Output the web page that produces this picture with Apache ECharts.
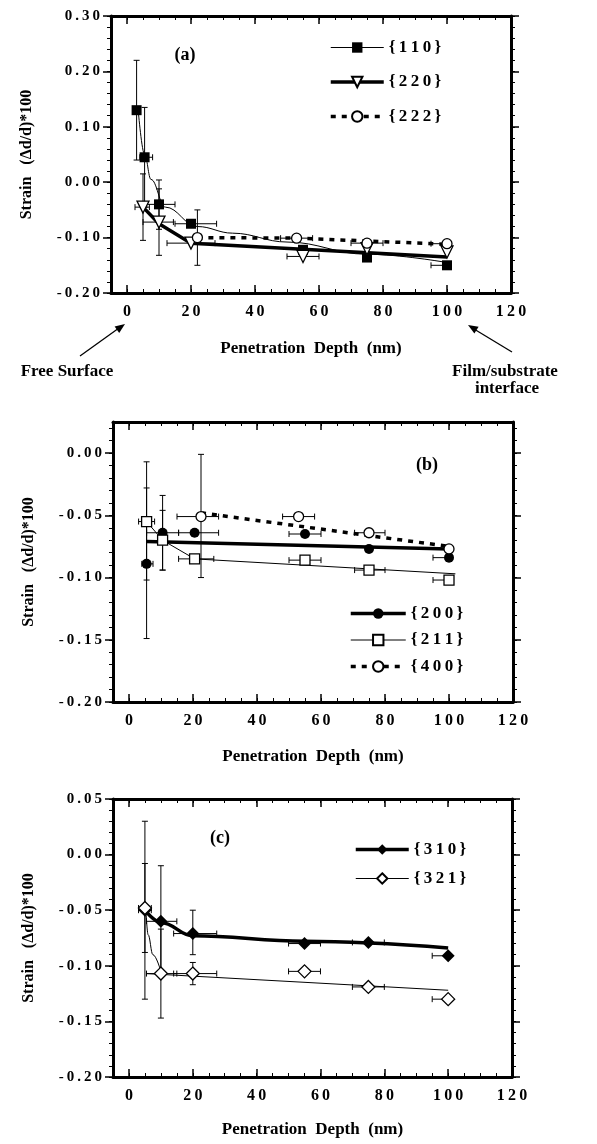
<!DOCTYPE html>
<html>
<head>
<meta charset="utf-8">
<script src="https://cdn.jsdelivr.net/npm/echarts@6/dist/echarts.min.js"></script>
<style>
html, body { margin: 0; padding: 0; background: #fff; }
#main { width: 597px; height: 1144px; }
</style>
</head>
<body>
<div id="main"></div>
<script>
// tick labels
var xTicks = [0, 20, 40, 60, 80, 100, 120];
var yTicksA = [-0.2, -0.1, 0, 0.1, 0.2, 0.3];
var yTicksB = [-0.2, -0.15, -0.1, -0.05, 0];
var yTicksC = [-0.2, -0.15, -0.1, -0.05, 0, 0.05];

// (a) points [depth nm, strain]
var d110 = [[3, 0.13], [5.5, 0.045], [10, -0.04], [20, -0.075], [55, -0.122], [75, -0.136], [100, -0.15]];
var d220 = [[5, -0.045], [10, -0.072], [20, -0.11], [55, -0.134], [75, -0.12], [100, -0.126]];
var d222 = [[22, -0.1], [53, -0.101], [75, -0.11], [100, -0.111]];
// error bars [depth, strain, xlo, xhi, ylo, yhi]
var e110 = [[3, 0.13, 3, 3, 0.04, 0.22], [5.5, 0.045, 4, 8, -0.045, 0.135], [10, -0.04, 5.5, 15, -0.085, 0.004],
  [20, -0.075, 15, 28, -0.075, -0.075], [100, -0.15, 95, 100, -0.15, -0.15]];
var e220 = [[5, -0.045, 2.5, 7, -0.105, 0.015], [10, -0.072, 5, 14.5, -0.132, -0.012], [20, -0.11, 12.5, 27.5, -0.11, -0.11],
  [55, -0.134, 50, 60, -0.134, -0.134]];
var e222 = [[22, -0.1, 22, 22, -0.15, -0.05], [53, -0.101, 48, 58, -0.101, -0.101], [75, -0.11, 70, 80, -0.11, -0.11],
  [100, -0.111, 95, 100, -0.111, -0.111]];
// fitted curves
var fit110 = [[3.5, 0.13], [5.5, 0.05], [7.5, 0.005], [12, -0.045], [22, -0.08], [33, -0.092], [50, -0.108], [75, -0.13], [100, -0.145]];
var fit220 = [[5, -0.045], [10, -0.075], [20, -0.11], [100, -0.135]];
var fit222 = [[22, -0.1], [53, -0.101], [100, -0.112]];

// (b)
var d200 = [[5.5, -0.089], [10.5, -0.064], [20.5, -0.064], [55, -0.065], [75, -0.077], [100, -0.084]];
var d211 = [[5.5, -0.055], [10.5, -0.07], [20.5, -0.085], [55, -0.086], [75, -0.094], [100, -0.102]];
var d400 = [[22.5, -0.051], [53, -0.051], [75, -0.064], [100, -0.077]];
var e200 = [[5.5, -0.089, 4, 7.5, -0.149, -0.028], [10.5, -0.064, 5.5, 15.5, -0.094, -0.034], [20.5, -0.064, 15.5, 28, -0.064, -0.064],
  [55, -0.065, 50, 60, -0.065, -0.065], [100, -0.084, 95, 100, -0.084, -0.084]];
var e211 = [[5.5, -0.055, 3, 8, -0.102, -0.007], [10.5, -0.07, 10.5, 10.5, -0.094, -0.046], [20.5, -0.085, 15.5, 26.5, -0.085, -0.085],
  [55, -0.086, 50, 60, -0.086, -0.086], [75, -0.094, 70.5, 80, -0.094, -0.094], [100, -0.102, 95, 100, -0.102, -0.102]];
var e400 = [[22.5, -0.051, 15, 28, -0.1, -0.001], [53, -0.051, 48, 58, -0.051, -0.051], [75, -0.064, 70.5, 80, -0.064, -0.064]];
var fit200 = [[5.5, -0.071], [100, -0.077]];
var fit211 = [[5.5, -0.055], [10.5, -0.07], [20.5, -0.085], [102, -0.097]];
var fit400 = [[22.5, -0.048], [100, -0.075]];

// (c)
var d310 = [[5, -0.05], [10, -0.06], [20, -0.071], [55, -0.08], [75, -0.079], [100, -0.091]];
var d321 = [[5, -0.048], [10, -0.107], [20, -0.107], [55, -0.105], [75, -0.119], [100, -0.13]];
var e310 = [[5, -0.05, 3, 7, -0.13, 0.03], [10, -0.06, 5.5, 15, -0.105, -0.01], [20, -0.071, 14, 27.5, -0.09, -0.05],
  [55, -0.08, 50, 60, -0.08, -0.08], [75, -0.079, 70, 80, -0.079, -0.079], [100, -0.091, 95, 100, -0.091, -0.091]];
var e321 = [[5, -0.048, 3, 7, -0.088, -0.008], [10, -0.107, 5.5, 15, -0.147, -0.067], [20, -0.107, 14, 27.5, -0.117, -0.097],
  [55, -0.105, 50, 60, -0.105, -0.105], [75, -0.119, 70, 80, -0.119, -0.119], [100, -0.13, 95, 100, -0.13, -0.13]];
var fit310 = [[5, -0.05], [10, -0.061], [20, -0.073], [55, -0.078], [100, -0.084]];
var fit321 = [[5.5, -0.107], [100, -0.122]];
var drop321 = [[5.3, -0.05], [6, -0.072], [7.5, -0.09], [10, -0.105]];

var FONT = '"Liberation Serif", "DejaVu Serif", serif';
var chart = echarts.init(document.getElementById('main'));

function steps(a, b, s) {
  var r = [];
  for (var v = a; v <= b + 1e-9; v += s) r.push(+v.toFixed(4));
  return r;
}
// the figure's typeface is widely tracked
function sp(s) {
  return String(s).split('').join('\u2009');
}

var black = {color: '#000', width: 1.5};

// four x axes per grid: bottom major/minor, top major/minor
function xAxes(g, nameGap) {
  var minor = steps(-5, 120, 5);
  var out = [];
  ['bottom', 'top'].forEach(function (pos) {
    out.push({
      gridIndex: g, type: 'value', min: -5, max: 120, position: pos,
      splitLine: {show: false},
      axisLine: {show: true, onZero: false, lineStyle: {color: '#000', width: 3}},
      axisTick: {show: true, inside: true, length: 8, customValues: xTicks, lineStyle: black},
      axisLabel: pos == 'bottom' ? {
        show: true, customValues: xTicks, margin: 11,
        color: '#000', fontFamily: FONT, fontWeight: 'bold', fontSize: 16,
        formatter: function (v) { return sp(v); }
      } : {show: false},
      name: pos == 'bottom' ? 'Penetration  Depth  (nm)' : '',
      nameLocation: 'middle', nameGap: nameGap,
      nameTextStyle: {color: '#000', fontFamily: FONT, fontWeight: 'bold', fontSize: 17}
    });
    out.push({
      gridIndex: g, type: 'value', min: -5, max: 120, position: pos,
      splitLine: {show: false}, axisLine: {show: false, onZero: false},
      axisTick: {show: true, inside: true, length: 4, customValues: minor, lineStyle: {color: '#000', width: 1}},
      axisLabel: {show: false}
    });
  });
  return out;
}

function yAxes(g, min, max, ticks, minorStep) {
  var minor = steps(min, max, minorStep);
  var out = [];
  ['left', 'right'].forEach(function (pos) {
    out.push({
      gridIndex: g, type: 'value', min: min, max: max, position: pos,
      splitLine: {show: false},
      axisLine: {show: true, onZero: false, lineStyle: {color: '#000', width: 3}},
      axisTick: {show: true, inside: false, length: 8, customValues: ticks, lineStyle: black},
      axisLabel: pos == 'left' ? {
        show: true, customValues: ticks, margin: 11,
        color: '#000', fontFamily: FONT, fontWeight: 'bold', fontSize: 15,
        formatter: function (v) { return sp(v.toFixed(2)); }
      } : {show: false},
      name: pos == 'left' ? 'Strain   (\u0394d/d)*100' : '',
      nameLocation: 'middle', nameGap: 76,
      nameTextStyle: {color: '#000', fontFamily: FONT, fontWeight: 'bold', fontSize: 16}
    });
    out.push({
      gridIndex: g, type: 'value', min: min, max: max, position: pos,
      splitLine: {show: false}, axisLine: {show: false, onZero: false},
      axisTick: {show: true, inside: false, length: 4, customValues: minor, lineStyle: {color: '#000', width: 1}},
      axisLabel: {show: false}
    });
  });
  return out;
}

function errBars(data, g) {
  return {
    type: 'custom', xAxisIndex: g * 4, yAxisIndex: g * 4, z: 1, silent: true,
    encode: {x: 0, y: 1},
    data: data,
    renderItem: function (params, api) {
      var x = api.value(0), y = api.value(1);
      var xlo = api.value(2), xhi = api.value(3), ylo = api.value(4), yhi = api.value(5);
      var kids = [];
      function seg(p, q) {
        kids.push({type: 'line', shape: {x1: p[0], y1: p[1], x2: q[0], y2: q[1]}, style: {stroke: '#000', lineWidth: 1}});
      }
      if (ylo !== yhi) {
        var a = api.coord([x, ylo]), b = api.coord([x, yhi]);
        seg(a, b);
        seg([a[0] - 3, a[1]], [a[0] + 3, a[1]]);
        seg([b[0] - 3, b[1]], [b[0] + 3, b[1]]);
      }
      if (xlo !== xhi) {
        var c = api.coord([xlo, y]), d = api.coord([xhi, y]);
        seg(c, d);
        if (xlo !== x) seg([c[0], c[1] - 3], [c[0], c[1] + 3]);
        if (xhi !== x) seg([d[0], d[1] - 3], [d[0], d[1] + 3]);
      }
      return {type: 'group', children: kids};
    }
  };
}

function fitLine(data, g, width, type, smooth) {
  return {
    type: 'line', xAxisIndex: g * 4, yAxisIndex: g * 4, data: data, z: 2, silent: true,
    symbol: 'none', smooth: smooth ? 0.4 : false, smoothMonotone: 'x',
    lineStyle: {color: '#000', width: width, type: type || 'solid'}
  };
}

// marker series; the connecting line is hidden, the legend gets its own line style
function points(name, data, g, symbol, size, open, rotate) {
  return {
    type: 'line', name: name, xAxisIndex: g * 4, yAxisIndex: g * 4, data: data, z: 3,
    symbol: symbol, symbolSize: size, symbolRotate: rotate || 0,
    itemStyle: open ? {color: '#fff', borderColor: '#000', borderWidth: 1.3} : {color: '#000'},
    lineStyle: {color: '#000', opacity: 0}
  };
}

function legendItem(name, width, type) {
  return {name: name, lineStyle: {color: '#000', opacity: 1, width: width, type: type || 'solid'}};
}

var legendBase = {
  orient: 'vertical', itemWidth: 53, itemHeight: 13, padding: 0, selectedMode: false,
  formatter: function (name) { return sp(name); },
  textStyle: {color: '#000', fontFamily: FONT, fontWeight: 'bold', fontSize: 17}
};

var option = {
  backgroundColor: '#fff',
  animation: false,
  grid: [
    {left: 111, top: 16, width: 400, height: 277},
    {left: 113, top: 422, width: 400, height: 280},
    {left: 113, top: 799, width: 399, height: 278}
  ],
  xAxis: xAxes(0, 47).concat(xAxes(1, 46)).concat(xAxes(2, 44)),
  yAxis: yAxes(0, -0.2, 0.3, yTicksA, 0.02)
    .concat(yAxes(1, -0.2, 0.025, yTicksB, 0.01))
    .concat(yAxes(2, -0.2, 0.05, yTicksC, 0.01)),
  legend: [
    Object.assign({}, legendBase, {left: 329, top: 39, itemGap: 17.5,
      data: [legendItem('{110}', 1), legendItem('{220}', 3.5), legendItem('{222}', 3.5, [5, 6])]}),
    Object.assign({}, legendBase, {left: 349, top: 605, itemGap: 9.5, itemWidth: 55,
      data: [legendItem('{200}', 3.5), legendItem('{211}', 1), legendItem('{400}', 3.5, [5, 6])]}),
    Object.assign({}, legendBase, {left: 354, top: 841, itemGap: 12,
      data: [legendItem('{310}', 3.5), legendItem('{321}', 1)]})
  ],
  series: [
    errBars(e110, 0), errBars(e220, 0), errBars(e222, 0),
    fitLine(fit110, 0, 1, 'solid', true), fitLine(fit220, 0, 3.5), fitLine(fit222, 0, 3.5, [5, 6]),
    points('{110}', d110, 0, 'rect', 10, false),
    points('{220}', d220, 0, 'triangle', 12, true, 180),
    points('{222}', d222, 0, 'circle', 10, true),

    errBars(e200, 1), errBars(e211, 1), errBars(e400, 1),
    fitLine(fit200, 1, 3.5), fitLine(fit211, 1, 1), fitLine(fit400, 1, 3.5, [5, 6]),
    points('{200}', d200, 1, 'circle', 10, false),
    points('{211}', d211, 1, 'rect', 10, true),
    points('{400}', d400, 1, 'circle', 10, true),

    errBars(e310, 2), errBars(e321, 2),
    fitLine(fit310, 2, 3.5, 'solid', true), fitLine(fit321, 2, 1), fitLine(drop321, 2, 1, 'solid', true),
    points('{310}', d310, 2, 'diamond', 13, false),
    points('{321}', d321, 2, 'diamond', 13, true)
  ],
  graphic: [
    {type: 'text', x: 185, y: 55, style: {text: '(a)', fill: '#000', font: 'bold 18px ' + FONT, align: 'center', verticalAlign: 'middle'}},
    {type: 'text', x: 427, y: 465, style: {text: '(b)', fill: '#000', font: 'bold 18px ' + FONT, align: 'center', verticalAlign: 'middle'}},
    {type: 'text', x: 220, y: 838, style: {text: '(c)', fill: '#000', font: 'bold 18px ' + FONT, align: 'center', verticalAlign: 'middle'}},
    // arrows under panel (a)
    {type: 'line', shape: {x1: 80, y1: 356, x2: 119, y2: 328}, style: {stroke: '#000', lineWidth: 1.3}},
    {type: 'polygon', shape: {points: [[125, 324], [119.2, 333.1], [114.6, 326.5]]}, style: {fill: '#000'}},
    {type: 'line', shape: {x1: 512, y1: 352, x2: 474, y2: 329}, style: {stroke: '#000', lineWidth: 1.3}},
    {type: 'polygon', shape: {points: [[468, 325], [478.6, 326.8], [474.4, 333.6]]}, style: {fill: '#000'}},
    {type: 'text', x: 67, y: 372, style: {text: 'Free Surface', fill: '#000', font: 'bold 17px ' + FONT, align: 'center', verticalAlign: 'middle'}},
    {type: 'text', x: 505, y: 372, style: {text: 'Film/substrate', fill: '#000', font: 'bold 17px ' + FONT, align: 'center', verticalAlign: 'middle'}},
    {type: 'text', x: 507, y: 389, style: {text: 'interface', fill: '#000', font: 'bold 17px ' + FONT, align: 'center', verticalAlign: 'middle'}}
  ]
};

chart.setOption(option);
</script>
</body>
</html>
